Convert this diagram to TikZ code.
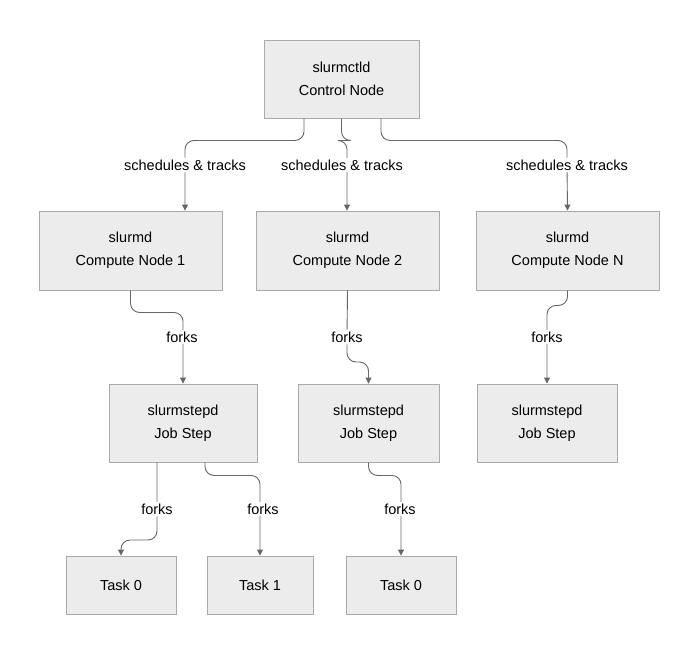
\documentclass[tikz,border=0pt]{standalone}
\usepackage{fontspec}
\setmainfont{Liberation Sans}
\usetikzlibrary{arrows.meta, positioning, calc}
\definecolor{boxfill}{HTML}{ECECEC}
\definecolor{boxline}{HTML}{AAAAAA}
\definecolor{edgeline}{HTML}{666666}
\begin{document}
\begin{tikzpicture}[x=1pt, y=-1pt, font=\fontsize{14.5}{23}\selectfont]
        \tikzset{
            proc/.style={draw=boxline, fill=boxfill, line width=0.9pt, align=center, inner sep=0pt},
            link/.style={draw=edgeline, line width=0.9pt, rounded corners=9pt, -{Triangle[length=6pt, width=6pt]}},
            tag/.style={fill=white, inner sep=2pt}
        }
        \useasboundingbox (0,0) rectangle (700,650);

        % --- control node ---
        \node[proc, minimum width=155pt, minimum height=78pt] (ctld) at (341.5,79) {slurmctld\\Control Node};

        % --- compute nodes ---
        \node[proc, minimum width=183pt, minimum height=79pt] (cn1) at (130.5,250.5) {slurmd\\Compute Node 1};
        \node[proc, minimum width=183pt, minimum height=79pt] (cn2) at (347.5,250.5) {slurmd\\Compute Node 2};
        \node[proc, minimum width=183pt, minimum height=79pt] (cnN) at (567.5,250.5) {slurmd\\Compute Node N};

        % --- job steps ---
        \node[proc, minimum width=148pt, minimum height=78pt] (st1) at (183,423) {slurmstepd\\Job Step};
        \node[proc, minimum width=141pt, minimum height=78pt] (st2) at (368.5,423) {slurmstepd\\Job Step};
        \node[proc, minimum width=140pt, minimum height=78pt] (stN) at (547,423) {slurmstepd\\Job Step};

        % --- tasks ---
        \node[proc, minimum width=110pt, minimum height=58pt] (t10) at (121,585) {Task 0};
        \node[proc, minimum width=106pt, minimum height=58pt] (t11) at (260,585) {Task 1};
        \node[proc, minimum width=110pt, minimum height=58pt] (t20) at (401,585) {Task 0};

        % schedules & tracks
        \draw[link] ([xshift=-37.5pt]ctld.south) -- ++(0,22) -| (185,165) node[tag] {schedules \& tracks} -- (cn1.north -| 185,0);
        \draw[link] (ctld.south) -- ++(0,22) -| (347,165) -- (cn2.north -| 347,0);
        \node[tag] at (342,165) {schedules \& tracks};
        \draw[link] ([xshift=39.5pt]ctld.south) -- ++(0,22) -| (567,165) node[tag] {schedules \& tracks} -- (cnN.north);

        % forks to job steps
        \draw[link] (cn1.south) -- ++(0,22) -| (st1.north);
        \node[tag] at (182,337) {forks};
        \draw[link] (cn2.south) -- (347,337) node[tag] {forks} -- (347,362) -| (st2.north);
        \draw[link] (cnN.south) -- ++(0,15) -| (stN.north);
        \node[tag] at (547,337) {forks};

        % forks to tasks
        \draw[link] ([xshift=-26pt]st1.south) -- (157,509) node[tag] {forks} -- (157,540) -| (t10.north);
        \draw[link] ([xshift=22pt]st1.south) -- ++(0,13) -| (t11.north);
        \node[tag] at (263,509) {forks};
        \draw[link] (st2.south) -- ++(0,13) -| (t20.north);
        \node[tag] at (400,509) {forks};
\end{tikzpicture}
\end{document}
